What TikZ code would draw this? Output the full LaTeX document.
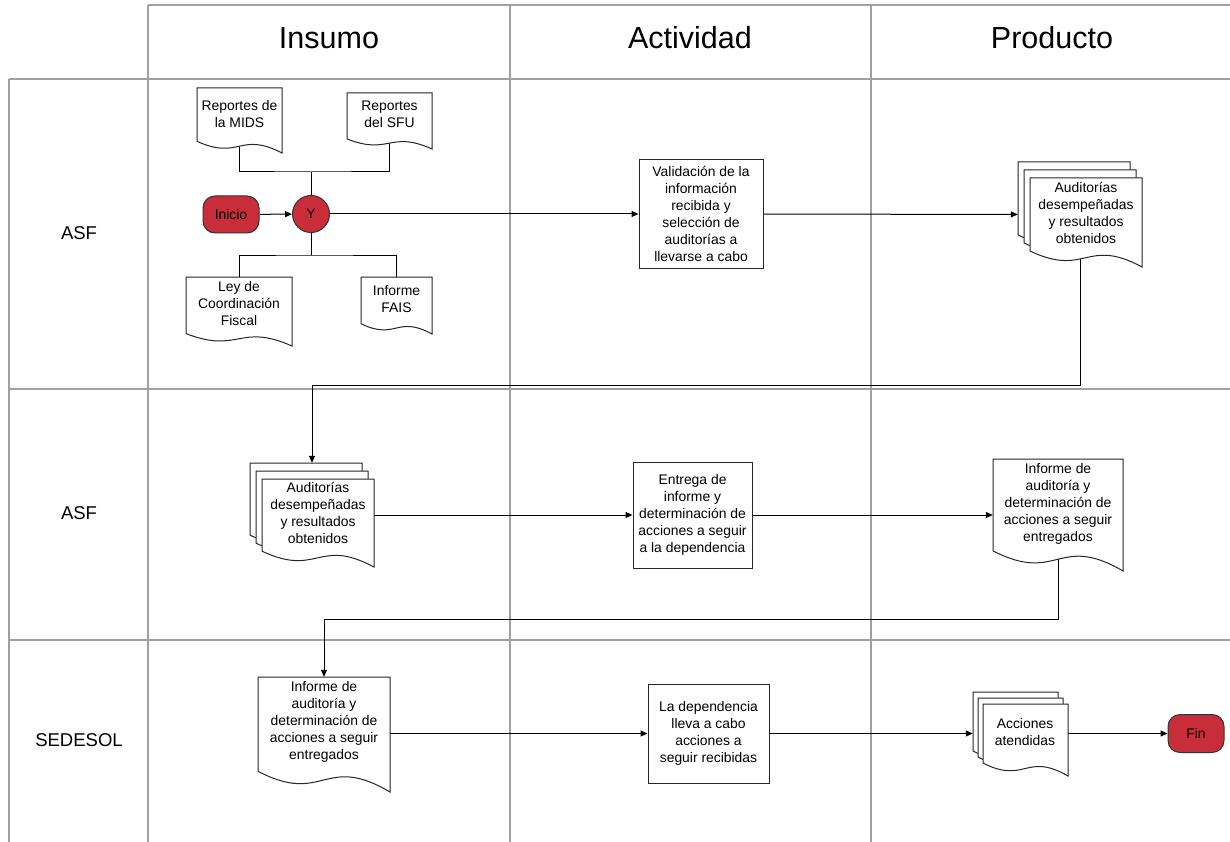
\documentclass[tikz,border=0pt]{standalone}
\usepackage{fontspec}
\setmainfont{Liberation Sans}
\usetikzlibrary{arrows.meta}
\definecolor{lucidred}{HTML}{C92D39}
\definecolor{gridgray}{HTML}{A0A0A0}
\pgfdeclarelayer{gridlayer}
\pgfdeclarelayer{connlayer}
\pgfsetlayers{gridlayer,connlayer,main}
\newcommand{\docout}[4]{%
  \draw[shapeline] (#1,#2) -- ({#1+#3},#2) -- ({#1+#3},{#2+#4})
    .. controls ({#1+0.5*#3},{#2+0.66*#4}) and ({#1+0.5*#3},{#2+1.12*#4}) ..
    (#1,{#2+0.82*#4}) -- cycle;}
\begin{document}
\begin{tikzpicture}[x=1pt,y=-1pt,
  gridline/.style={draw=gridgray, line width=1.3pt},
  conn/.style={draw=black, line width=1pt},
  arr/.style={conn, -{Triangle[length=7pt,width=6pt]}},
  shapeline/.style={draw=black!85, line width=1pt, fill=white},
  txt/.style={font=\fontsize{13.9}{17}\selectfont, align=center, inner sep=0pt},
  procbox/.style={shapeline, txt},
  termbox/.style={draw=black!80, fill=lucidred, line width=1pt, txt, rounded corners=12pt},
  header/.style={font=\fontsize{30.5}{36}\selectfont},
  lanelabel/.style={font=\fontsize{18.5}{22}\selectfont}
]
\useasboundingbox (0,0) rectangle (1230,842);

% ---------- grid ----------
\begin{pgfonlayer}{gridlayer}
  \draw[gridline] (148,5) -- (1230,5);
  \draw[gridline] (9,79) -- (1230,79);
  \draw[gridline] (9,389) -- (1230,389);
  \draw[gridline] (9,640) -- (1230,640);
  \draw[gridline] (148,5) -- (148,842);
  \draw[gridline] (510,5) -- (510,842);
  \draw[gridline] (871,5) -- (871,842);
  \draw[gridline] (9,79) -- (9,842);
\end{pgfonlayer}

% ---------- headers and lanes ----------
\node[header] (hins) at (329,38) {Insumo};
\node[header] (hact) at (690,38) {Actividad};
\node[header] (hpro) at (1052,38) {Producto};
\node[lanelabel] (l1) at (79,233) {ASF};
\node[lanelabel] (l2) at (79,513) {ASF};
\node[lanelabel] (l3) at (79,740) {SEDESOL};

% ---------- lane 1 ----------
\docout{197}{88}{85}{65}
\node[txt, minimum width=85pt, minimum height=52pt] (mids) at (239.5,114) {Reportes de\\la MIDS};
\docout{347}{93}{85}{56}
\node[txt, minimum width=85pt, minimum height=43pt] (sfu) at (389.5,114.5) {Reportes\\del SFU};
\docout{186}{277}{106}{69}
\node[txt, minimum width=106pt, minimum height=54pt] (ley) at (239,304) {Ley de\\Coordinación\\Fiscal};
\docout{361}{277}{71}{57}
\node[txt, minimum width=71pt, minimum height=45pt] (fais) at (396.5,299.5) {Informe\\FAIS};

\node[termbox, minimum width=56pt, minimum height=37pt] (ini) at (231,214.5) {Inicio};
\node[draw=black!80, fill=lucidred, line width=1pt, circle, minimum size=37pt, txt] (yn) at (311,214) {Y};
\coordinate (jt) at (311,172);
\coordinate (jb) at (311,255);

\node[procbox, minimum width=124pt, minimum height=108pt] (val) at (701,214)
  {Validación de la\\información\\recibida y\\selección de\\auditorías a\\llevarse a cabo};

\docout{1018}{162}{112}{89}
\docout{1024}{170}{112}{89}
\docout{1030}{178}{112}{89}
\node[txt, minimum width=124pt, minimum height=105pt] (aud1) at (1080,214.5)
  {\hspace*{12pt}\begin{tabular}{@{}c@{}}Auditorías\\desempeñadas\\y resultados\\obtenidos\end{tabular}};

% ---------- lane 2 ----------
\docout{250}{463}{112}{88}
\docout{256}{471}{112}{88}
\docout{262}{479}{112}{88}
\node[txt, minimum width=124pt, minimum height=104pt] (aud2) at (312,515)
  {\hspace*{12pt}\begin{tabular}{@{}c@{}}Auditorías\\desempeñadas\\y resultados\\obtenidos\end{tabular}};

\node[procbox, minimum width=119pt, minimum height=106pt] (ent) at (692.5,515)
  {Entrega de\\informe y\\determinación de\\acciones a seguir\\a la dependencia};

\docout{993}{459}{130}{112}
\node[txt, minimum width=130pt, minimum height=89pt] (inf2) at (1058,503.5)
  {Informe de\\auditoría y\\determinación de\\acciones a seguir\\entregados};

% ---------- lane 3 ----------
\docout{258}{677}{132}{115}
\node[txt, minimum width=132pt, minimum height=90pt] (inf3) at (324,722)
  {Informe de\\auditoría y\\determinación de\\acciones a seguir\\entregados};

\node[procbox, minimum width=121pt, minimum height=99pt] (dep) at (708.5,733.5)
  {La dependencia\\lleva a cabo\\acciones a\\seguir recibidas};

\docout{973}{692}{85}{72}
\docout{978}{698}{85}{72}
\docout{983}{704}{85}{72}
\node[txt, minimum width=95pt, minimum height=84pt] (acc) at (1020.5,734)
  {\hspace*{9pt}\begin{tabular}{@{}c@{}}Acciones\\atendidas\end{tabular}};

\node[termbox, minimum width=56pt, minimum height=38pt] (fin) at (1196,733.5) {Fin};

% ---------- connectors ----------
\begin{pgfonlayer}{connlayer}
  \draw[conn] (mids.south) |- (jt) -| (sfu.south);
  \draw[conn] (jt) -- (yn.north);
  \draw[conn] (yn.south) -- (jb);
  \draw[conn] (ley.north) |- (jb) -| (fais.north);
  \draw[arr] (ini) -- (yn);
  \draw[arr] (yn) -- (val);
  \draw[arr] (val) -- (aud1);
  \coordinate (r1) at (1080,385);
  \draw[arr] (aud1.center) -- (r1) -| (aud2.north);
  \draw[arr] (aud2.east |- ent.west) -- (ent.west);
  \draw[arr] (ent.east) -- (inf2.west |- ent.east);
  \coordinate (r2) at (1058,619);
  \draw[arr] (inf2.south) -- (r2) -| (inf3.north);
  \draw[arr] (inf3.east |- dep.west) -- (dep.west);
  \draw[arr] (dep.east) -- (acc.west |- dep.east);
  \draw[arr] (acc.east |- fin.west) -- (fin.west);
\end{pgfonlayer}
\end{tikzpicture}
\end{document}
